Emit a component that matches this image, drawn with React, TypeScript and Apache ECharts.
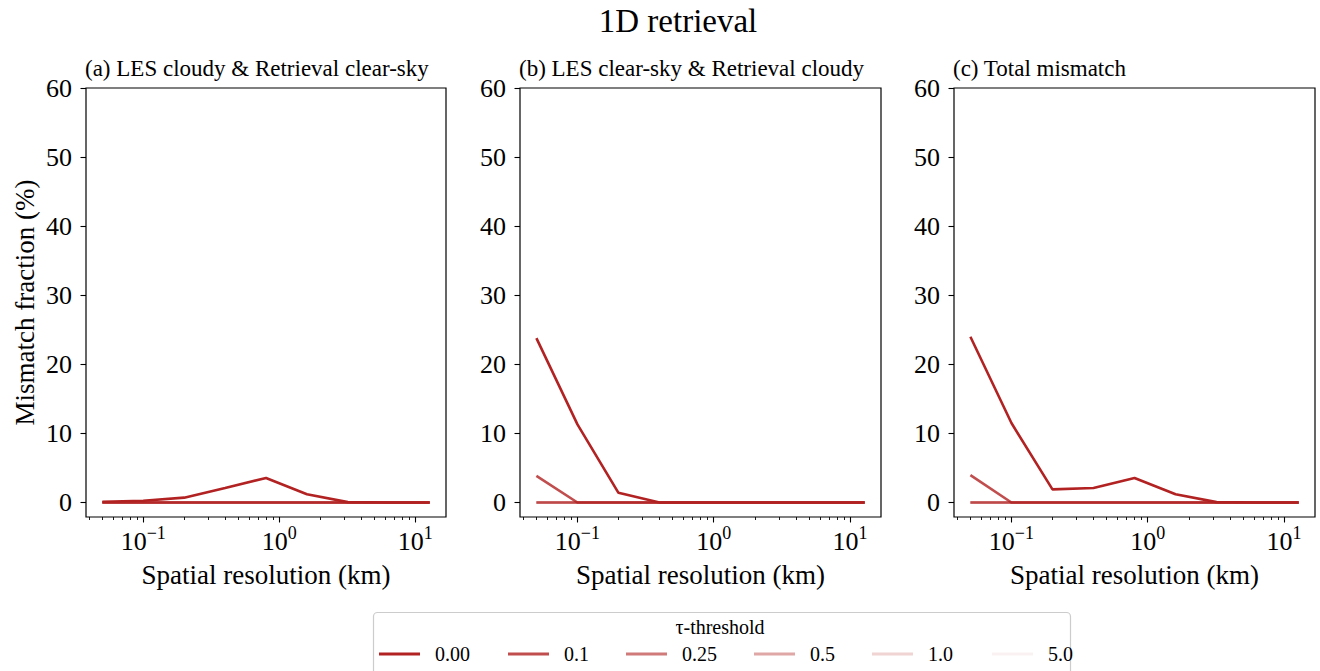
import React, { useEffect, useRef } from "react";
import * as echarts from "echarts";

// ---------- data ----------
const resolutionKm = [0.05, 0.1, 0.2, 0.4, 0.8, 1.6, 3.2, 6.4, 12.8];
const thresholdLabels = ["0.00", "0.1", "0.25", "0.5", "1.0", "5.0"];
const thresholdAlphas = [1, 0.8, 0.6, 0.4, 0.2, 0.06];

const panelTitles = [
  "(a) LES cloudy & Retrieval clear-sky",
  "(b) LES clear-sky & Retrieval cloudy",
  "(c) Total mismatch",
];

// (a) LES cloudy & Retrieval clear-sky
const panelA_t000 = [0.1, 0.25, 0.7, 2.1, 3.55, 1.2, 0.05, 0, 0];
const panelA_t010 = [0, 0, 0, 0, 0, 0, 0, 0, 0];
const panelA_t025 = [0, 0, 0, 0, 0, 0, 0, 0, 0];
const panelA_t050 = [0, 0, 0, 0, 0, 0, 0, 0, 0];
const panelA_t100 = [0, 0, 0, 0, 0, 0, 0, 0, 0];
const panelA_t500 = [0, 0, 0, 0, 0, 0, 0, 0, 0];

// (b) LES clear-sky & Retrieval cloudy
const panelB_t000 = [23.8, 11.3, 1.4, 0, 0, 0, 0, 0, 0];
const panelB_t010 = [3.85, 0, 0, 0, 0, 0, 0, 0, 0];
const panelB_t025 = [0, 0, 0, 0, 0, 0, 0, 0, 0];
const panelB_t050 = [0, 0, 0, 0, 0, 0, 0, 0, 0];
const panelB_t100 = [0, 0, 0, 0, 0, 0, 0, 0, 0];
const panelB_t500 = [0, 0, 0, 0, 0, 0, 0, 0, 0];

// (c) Total mismatch
const panelC_t000 = [24.0, 11.5, 1.9, 2.1, 3.55, 1.2, 0.05, 0, 0];
const panelC_t010 = [3.95, 0, 0, 0, 0, 0, 0, 0, 0];
const panelC_t025 = [0, 0, 0, 0, 0, 0, 0, 0, 0];
const panelC_t050 = [0, 0, 0, 0, 0, 0, 0, 0, 0];
const panelC_t100 = [0, 0, 0, 0, 0, 0, 0, 0, 0];
const panelC_t500 = [0, 0, 0, 0, 0, 0, 0, 0, 0];

const panelSeries = [
  [panelA_t000, panelA_t010, panelA_t025, panelA_t050, panelA_t100, panelA_t500],
  [panelB_t000, panelB_t010, panelB_t025, panelB_t050, panelB_t100, panelB_t500],
  [panelC_t000, panelC_t010, panelC_t025, panelC_t050, panelC_t100, panelC_t500],
];

const yTicks = [0, 10, 20, 30, 40, 50, 60];
const xMajorTicks = [0.1, 1, 10];
const xMinorTicks = [
  0.04, 0.05, 0.06, 0.07, 0.08, 0.09,
  0.2, 0.3, 0.4, 0.5, 0.6, 0.7, 0.8, 0.9,
  2, 3, 4, 5, 6, 7, 8, 9,
];
const xRangeKm = [0.0379, 16.87];
const yRange = [-2.1, 60];

// ---------- layout ----------
const FONT = "'Liberation Serif', 'Times New Roman', serif";
const gridLefts = [86, 520, 954];
const gridWidths = [360, 361, 361];
const gridTop = 88;
const gridHeight = 429;
const legendItemLefts = [379, 508, 626, 754, 872, 992];

const lg = (v: number) => Math.log10(v);

export default function App() {
  const ref = useRef<HTMLDivElement>(null);

  useEffect(() => {
    if (!ref.current) return;
    const chart = echarts.init(ref.current, undefined, { renderer: "svg" });

    const grids = gridLefts.map((left, i) => ({
      left,
      top: gridTop,
      width: gridWidths[i],
      height: gridHeight,
      show: true,
      borderColor: "#000",
      borderWidth: 1.2,
      backgroundColor: "transparent",
    }));

    const majorAxes = gridLefts.map((_, i) => ({
      type: "value",
      gridIndex: i,
      position: "bottom",
      min: lg(xRangeKm[0]),
      max: lg(xRangeKm[1]),
      axisLine: { show: false, onZero: false },
      splitLine: { show: false },
      axisTick: {
        show: true,
        customValues: xMajorTicks.map(lg),
        length: 5.5,
        lineStyle: { color: "#000", width: 1.1 },
      },
      axisLabel: {
        show: true,
        customValues: xMajorTicks.map(lg),
        margin: 7,
        formatter: (v: number) => {
          const e = Math.round(v);
          const s = e < 0 ? "\u2212" + Math.abs(e) : String(e);
          return "{b|10}{s|" + s + "}";
        },
        rich: {
          b: { fontFamily: FONT, fontSize: 26, lineHeight: 34, color: "#000" },
          s: { fontFamily: FONT, fontSize: 18, lineHeight: 18, verticalAlign: "top", color: "#000" },
        },
      },
      name: "Spatial resolution (km)",
      nameLocation: "middle",
      nameGap: 44,
      nameTextStyle: { fontFamily: FONT, fontSize: 27, color: "#000" },
    }));

    const minorAxes = gridLefts.map((_, i) => ({
      type: "value",
      gridIndex: i,
      position: "bottom",
      min: lg(xRangeKm[0]),
      max: lg(xRangeKm[1]),
      axisLine: { show: false, onZero: false },
      splitLine: { show: false },
      axisLabel: { show: false },
      axisTick: {
        show: true,
        customValues: xMinorTicks.map(lg),
        length: 3,
        lineStyle: { color: "#000", width: 0.9 },
      },
    }));

    const yAxes = gridLefts.map((_, i) => ({
      type: "value",
      gridIndex: i,
      position: "left",
      min: yRange[0],
      max: yRange[1],
      axisLine: { show: false, onZero: false },
      splitLine: { show: false },
      axisTick: {
        show: true,
        customValues: yTicks,
        length: 5.5,
        lineStyle: { color: "#000", width: 1.1 },
      },
      axisLabel: {
        show: true,
        customValues: yTicks,
        margin: 14,
        fontFamily: FONT,
        fontSize: 26,
        color: "#000",
      },
      name: i === 0 ? "Mismatch fraction (%)" : "",
      nameLocation: "middle",
      nameGap: 48,
      nameTextStyle: { fontFamily: FONT, fontSize: 27, color: "#000" },
    }));

    const series: any[] = [];
    panelSeries.forEach((panel, p) => {
      panel.forEach((vals, t) => {
        series.push({
          type: "line",
          name: thresholdLabels[t],
          xAxisIndex: p,
          yAxisIndex: p,
          symbol: "none",
          showSymbol: false,
          color: `rgba(178,34,34,${thresholdAlphas[t]})`,
          lineStyle: { width: 2.6, color: `rgba(178,34,34,${thresholdAlphas[t]})` },
          data: resolutionKm.map((r, k) => [lg(r), vals[k]]),
          z: 3,
        });
      });
    });

    const legends = thresholdLabels.map((label, t) => ({
      show: true,
      left: legendItemLefts[t],
      top: 644,
      data: [label],
      icon: "rect",
      itemWidth: 41,
      itemHeight: 3,
      selectedMode: false,
      padding: 0,
      textStyle: { fontFamily: FONT, fontSize: 20, color: "#000", padding: [0, 0, 0, 10] },
    }));

    const titles = panelTitles.map((t, i) => ({
      text: t,
      left: gridLefts[i] - 1,
      top: 57,
      padding: 0,
      textStyle: { fontFamily: FONT, fontSize: 23, fontWeight: "normal", color: "#000" },
    }));

    chart.setOption({
      animation: false,
      backgroundColor: "#fff",
      title: [
        {
          text: "1D retrieval",
          left: 678,
          top: 4,
          textAlign: "center",
          padding: 0,
          textStyle: { fontFamily: FONT, fontSize: 33, fontWeight: "normal", color: "#000" },
        },
        ...titles,
      ],
      grid: grids,
      xAxis: [...majorAxes, ...minorAxes],
      yAxis: yAxes,
      legend: legends,
      series,
      graphic: [
        {
          type: "rect",
          z: 0,
          shape: { x: 373.5, y: 612.5, width: 697, height: 70, r: 4 },
          style: { fill: "#fff", stroke: "#cccccc", lineWidth: 1.2 },
        },
        {
          type: "text",
          z: 1,
          x: 720,
          y: 627,
          style: {
            text: "\u03c4-threshold",
            fontFamily: FONT,
            fontSize: 20,
            fill: "#000",
            align: "center",
            verticalAlign: "middle",
          },
        },
      ],
    });

    return () => chart.dispose();
  }, []);

  return (
    <div
      ref={ref}
      style={{ position: "fixed", left: 0, top: 0, width: 1320, height: 671 }}
    />
  );
}
